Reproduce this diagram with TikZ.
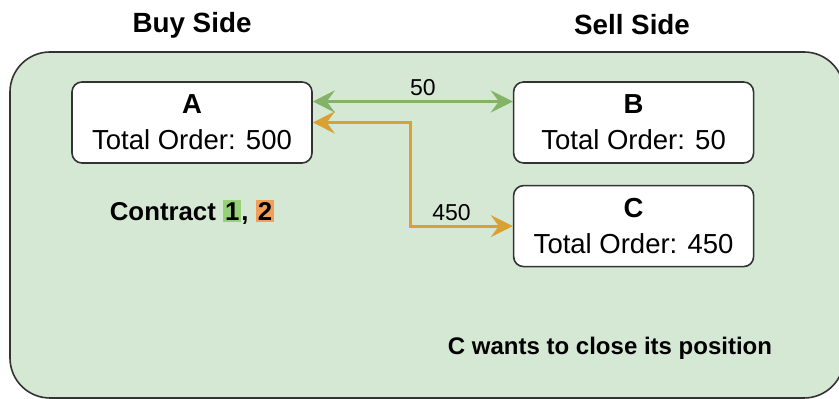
\documentclass[tikz,border=0pt]{standalone}
\usepackage{fontspec}
\setmainfont{Liberation Sans}
\usetikzlibrary{positioning, arrows.meta}
\definecolor{panelgreen}{HTML}{D5E8D4}
\definecolor{linkgreen}{HTML}{82B366}
\definecolor{linkorange}{HTML}{D9A033}
\definecolor{markgreen}{HTML}{97D077}
\definecolor{markorange}{HTML}{F0A058}
\definecolor{edge}{HTML}{333333}
\newcommand{\hilite}[2]{{\setlength{\fboxsep}{1pt}\colorbox{#1}{#2}}}
\tikzset{
	party/.style={draw=edge, line width=0.8pt, rounded corners=5pt, fill=white, align=center, minimum width=120pt, minimum height=40.5pt, inner sep=2pt, font=\fontsize{13.75}{18}\selectfont},
	side/.style={font=\fontsize{13.9}{16}\selectfont\bfseries},
	note/.style={font=\fontsize{#1}{16}\selectfont\bfseries},
	note/.default=12,
	qty/.style={font=\fontsize{11.5}{14}\selectfont, text=black, inner sep=2pt},
	% shared market area behind the parties
	panel/.style={draw=edge, line width=0.8pt, fill=panelgreen, rounded corners=20pt}
}

\begin{document}
\begin{tikzpicture}[x=0.5pt, y=-0.5pt]
	\useasboundingbox (0,0) rectangle (839,399);
	\draw[panel] (10,52) rectangle (844,398);
	
	\node (buy) [side] at (192,25) {Buy Side};
	\node (sell) [side] at (632,25) {Sell Side};
	
	\node (a) [party] at (192,122.5) {\textbf{A}\\Total Order: 500};
	\node (b) [party, right=100pt of a] {\textbf{B}\\Total Order: 50};
	\node (c) [party, below=10.5pt of b] {\textbf{C}\\Total Order: 450};
	
	\node (contract) [note=12.9] at (192,212) {Contract \hilite{markgreen}{1}, \hilite{markorange}{2}};
	\node (closing) [note] at (610,348) {C wants to close its position};
	
	\begin{scope}[line width=1.5pt, >={Stealth[length=11pt, width=11pt, inset=4pt]}]
		\draw[<->, linkgreen] ([yshift=10.5pt]a.east) -- node[qty, above, pos=0.55] {50} ([yshift=10.5pt]b.west);
		\draw[<->, linkorange] (a.east) -- ++(49pt,0) |- node[qty, above, pos=0.7] {450} (c.west);
	\end{scope}
\end{tikzpicture}
\end{document}
